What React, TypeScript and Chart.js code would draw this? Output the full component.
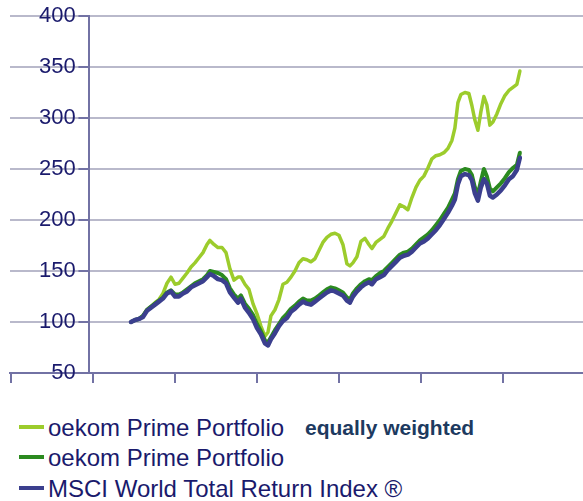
import React, { useEffect, useRef } from "react";
import { Chart, registerables } from "chart.js";

Chart.register(...registerables);

// time in years (decimal) from axis origin
const DATES = [
  1.461, 1.51, 1.559, 1.607, 1.656, 1.705, 1.754, 1.802, 1.851, 1.9, 1.949, 1.998, 2.046, 2.095, 2.144, 2.193,
  2.241, 2.29, 2.339, 2.388, 2.424, 2.473, 2.522, 2.571, 2.62, 2.668, 2.717, 2.766, 2.802, 2.851, 2.9, 2.949,
  2.998, 3.046, 3.095, 3.132, 3.168, 3.217, 3.266, 3.315, 3.363, 3.412, 3.461, 3.51, 3.559, 3.607, 3.656, 3.705,
  3.754, 3.802, 3.851, 3.9, 3.949, 3.998, 4.046, 4.095, 4.132, 4.168, 4.217, 4.266, 4.315, 4.363, 4.4, 4.449,
  4.498, 4.546, 4.595, 4.644, 4.693, 4.741, 4.79, 4.839, 4.888, 4.937, 4.985, 5.034, 5.083, 5.132, 5.18, 5.229,
  5.278, 5.327, 5.376, 5.412, 5.449, 5.485, 5.534, 5.583, 5.62, 5.656, 5.693, 5.729, 5.766, 5.802, 5.839, 5.876,
  5.924, 5.973, 6.022, 6.071, 6.12, 6.168, 6.205,
];

const PRIME_EQUAL = [
  100, 102, 103, 106, 112, 115, 119, 122, 128, 138, 144, 137, 138, 143, 148, 154,
  158, 163, 168, 176, 180, 176, 173, 173, 168, 152, 141, 144, 144, 137, 132, 118,
  108, 96, 86, 90, 106, 112, 122, 137, 139, 144, 150, 158, 162, 161, 159, 162,
  170, 178, 183, 186, 187, 185, 176, 157, 155, 158, 164, 179, 182, 176, 172, 178,
  181, 184, 192, 199, 207, 215, 213, 210, 222, 232, 239, 243, 251, 260, 263, 264,
  266, 270, 278, 290, 315, 323, 325, 324, 312, 298, 288, 306, 321, 313, 293, 296,
  304, 314, 322, 327, 330, 333, 346,
];

const PRIME = [
  100, 102, 103, 106, 112, 115, 118, 121, 124, 129, 131, 127, 127, 129, 132, 135,
  138, 140, 142, 146, 150, 149, 148, 146, 142, 133, 127, 123, 126, 118, 113, 107,
  98, 91, 82, 80, 85, 92, 98, 104, 108, 113, 116, 120, 123, 121, 121, 123,
  126, 129, 132, 134, 133, 131, 129, 124, 122, 128, 133, 137, 140, 142, 141, 145,
  148, 150, 154, 158, 162, 166, 168, 169, 172, 176, 180, 183, 186, 190, 195, 200,
  206, 212, 220, 226, 240, 248, 250, 249, 244, 232, 225, 238, 250, 243, 231, 228,
  232, 236, 241, 247, 251, 254, 266,
];

const MSCI = [
  100, 102, 103, 105, 111, 114, 117, 120, 123, 128, 130, 125, 125, 128, 130, 134,
  136, 138, 140, 144, 147, 145, 142, 141, 138, 129, 124, 119, 123, 114, 109, 103,
  94, 88, 79, 77, 83, 89, 96, 101, 104, 110, 113, 117, 120, 118, 117, 120,
  123, 126, 129, 131, 130, 128, 126, 121, 119, 125, 130, 134, 137, 139, 137, 142,
  144, 146, 151, 155, 159, 163, 165, 166, 169, 173, 177, 179, 182, 186, 190, 195,
  201, 207, 214, 220, 235, 243, 245, 244, 239, 226, 219, 232, 240, 236, 224, 222,
  225, 229, 234, 240, 243, 249, 261,
];

const X_TICKS = [0, 1, 2, 3, 4, 5, 6];
const Y_AXIS_AT = 0.954; // x value where the value axis crosses
const Y_MIN = 50;
const Y_MAX = 400;
const Y_STEP = 50;

const LEGEND = [
  { label: "oekom Prime Portfolio", color: "#9ccc2c", note: "equally weighted" },
  { label: "oekom Prime Portfolio", color: "#2b8a1f", note: "" },
  { label: "MSCI World Total Return Index ®", color: "#3b3f8e", note: "" },
];

const FONT = "'Liberation Sans', Arial, Helvetica, sans-serif";
const AXIS = "#7272a4";
const GRID = "#b9b9cb";
const TEXT = "#1a1a6c";

// short tick marks on the value axis, placed through the chart's own scales
const yTickMarks = {
  id: "yTickMarks",
  afterDatasetsDraw(chart: any) {
    const xs = chart.scales.x;
    const ys = chart.scales.y;
    const ax = xs.getPixelForValue(Y_AXIS_AT);
    const ctx = chart.ctx;
    ctx.save();
    ctx.strokeStyle = AXIS;
    ctx.lineWidth = 2;
    ys.ticks.forEach((t: any) => {
      const py = Math.round(ys.getPixelForValue(t.value));
      ctx.beginPath();
      ctx.moveTo(ax - 11, py);
      ctx.lineTo(ax, py);
      ctx.stroke();
    });
    ctx.restore();
  },
};

export default function App() {
  const ref = useRef<HTMLCanvasElement>(null);

  useEffect(() => {
    if (!ref.current) return;
    const mk = (arr: number[]) => arr.map((v, i) => ({ x: DATES[i], y: v }));
    const chart = new Chart(ref.current, {
      type: "line",
      data: {
        datasets: [
          { label: "MSCI", data: mk(MSCI), borderColor: LEGEND[2].color, borderWidth: 4.5, pointRadius: 0, order: 0 },
          { label: "Prime", data: mk(PRIME), borderColor: LEGEND[1].color, borderWidth: 4, pointRadius: 0, order: 1 },
          { label: "Prime EW", data: mk(PRIME_EQUAL), borderColor: LEGEND[0].color, borderWidth: 3.5, pointRadius: 0, order: 2 },
        ],
      },
      options: {
        animation: false,
        responsive: false,
        layout: { padding: { left: 10, right: 0, top: 16, bottom: 0 } },
        plugins: { legend: { display: false }, tooltip: { enabled: false } },
        elements: { line: { tension: 0, borderJoinStyle: "round", borderCapStyle: "round" } },
        scales: {
          x: {
            type: "linear",
            min: -0.015,
            max: 6.975,
            afterBuildTicks: (s: any) => {
              s.ticks = X_TICKS.map((v) => ({ value: v }));
            },
            ticks: { display: false },
            grid: { drawOnChartArea: false, drawTicks: true, tickLength: 10, color: AXIS, tickColor: AXIS, lineWidth: 2 },
            border: { display: true, color: AXIS, width: 2 },
          },
          // label + gridline axis (zero width; mirrored labels right-aligned left of the value axis)
          yLabels: {
            type: "linear",
            position: "left",
            min: Y_MIN,
            max: Y_MAX,
            afterFit: (s: any) => {
              s.width = 0;
              s.paddingTop = 0;
              s.paddingBottom = 0;
            },
            ticks: {
              stepSize: Y_STEP,
              color: TEXT,
              font: { size: 22, family: FONT },
              mirror: true,
              crossAlign: "far",
              padding: 29,
            },
            grid: { color: GRID, lineWidth: 2, drawTicks: false, drawOnChartArea: true },
            border: { display: false },
          },
          y: {
            type: "linear",
            position: { x: Y_AXIS_AT } as any,
            min: Y_MIN,
            max: Y_MAX,
            ticks: { stepSize: Y_STEP, display: false },
            grid: { drawOnChartArea: false, drawTicks: false },
            border: { display: true, color: AXIS, width: 2 },
          },
        },
      },
      plugins: [yTickMarks],
    });
    return () => chart.destroy();
  }, []);

  return (
    <div style={{ position: "absolute", left: 0, top: 0, width: 583, height: 501, background: "#fff", fontFamily: FONT }}>
      <canvas ref={ref} width={583} height={383} style={{ display: "block" }} />
      {LEGEND.map((item, i) => (
        <div
          key={i}
          style={{
            position: "absolute",
            left: 0,
            top: 413 + i * 30.3,
            height: 30,
            lineHeight: "30px",
            whiteSpace: "nowrap",
          }}
        >
          <span
            style={{
              position: "absolute",
              left: 19,
              top: 12,
              width: 25,
              height: 4,
              background: item.color,
            }}
          />
          <span style={{ position: "absolute", left: 48, top: 0, fontSize: 24, color: TEXT }}>{item.label}</span>
          {item.note ? (
            <span style={{ position: "absolute", left: 305, top: 0, fontSize: 21, fontWeight: "bold", color: "#1d3a60" }}>
              {item.note}
            </span>
          ) : null}
        </div>
      ))}
    </div>
  );
}
